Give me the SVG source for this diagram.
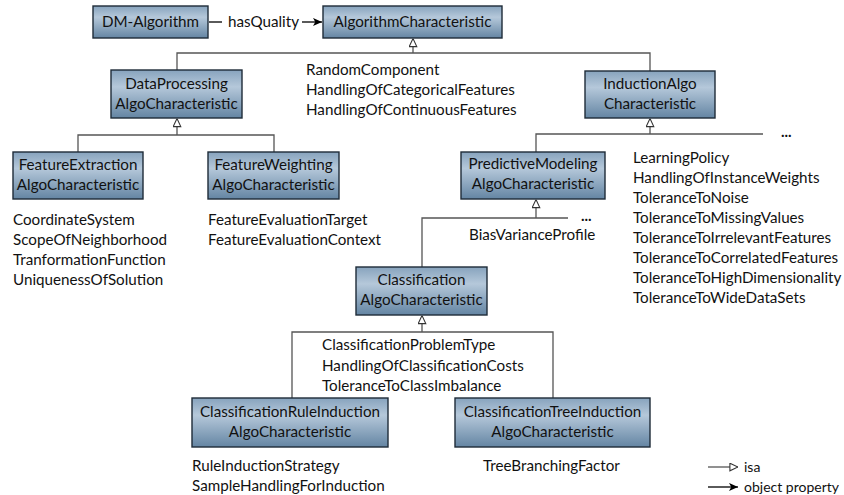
<svg xmlns="http://www.w3.org/2000/svg" width="844" height="495" viewBox="0 0 844 495">
  <defs>
    <linearGradient id="boxFill" x1="0" y1="0" x2="0" y2="1">
      <stop offset="0" stop-color="#87a3bd"/>
      <stop offset="0.35" stop-color="#b5c8da"/>
      <stop offset="1" stop-color="#6485a3"/>
    </linearGradient>
    <marker id="isa" viewBox="0 0 10 10" refX="10" refY="5" markerWidth="9" markerHeight="9" markerUnits="userSpaceOnUse" orient="auto">
      <path d="M10,5 L1,0.8 L1,9.2 Z" fill="#fff" stroke="#333" stroke-width="1.2"/>
    </marker>
    <marker id="prop" viewBox="0 0 10 10" refX="10" refY="5" markerWidth="11" markerHeight="9" markerUnits="userSpaceOnUse" orient="auto">
      <path d="M10,5 L0,0.5 L2.5,5 L0,9.5 Z" fill="#000"/>
    </marker>
  </defs>
  <style>
    text { font-family: Lato, "Liberation Sans", sans-serif; font-size: 15.2px; fill: #111; }
    .box { fill: url(#boxFill); stroke: #1e2b38; stroke-width: 1.4; }
    .lbl { text-anchor: middle; }
    .bar { fill: none; stroke: #555; stroke-width: 1.3; }
    .isa { fill: none; stroke: #555; stroke-width: 1.3; marker-end: url(#isa); }
    .prop { fill: none; stroke: #000; stroke-width: 1.3; marker-end: url(#prop); }
    .dots { font-weight: bold; font-size: 15px; }
    .legend { font-size: 14px; }
  </style>

  <!-- connectors -->
  <g id="connectors">
    <line x1="209" y1="22" x2="222" y2="22" stroke="#000" stroke-width="1.3"/>
    <text x="228" y="27">hasQuality</text>
    <line class="prop" x1="302" y1="22" x2="322" y2="22"/>

    <path class="bar" d="M177,70 V53 H650 V71"/>
    <path class="isa" d="M413,53 V38.5"/>

    <path class="bar" d="M78,152 V135 H274 V152"/>
    <path class="isa" d="M177,135 V118.5"/>

    <path class="bar" d="M536,152 V134 H763"/>
    <path class="isa" d="M650,134 V118.5"/>
    <text class="dots" x="781" y="137">...</text>

    <path class="bar" d="M422,267 V218 H568"/>
    <path class="isa" d="M536,218 V199.5"/>
    <text class="dots" x="581" y="221">...</text>

    <path class="bar" d="M292,398 V332 H553 V398"/>
    <path class="isa" d="M422,332 V315.5"/>
  </g>

  <!-- nodes -->
  <g id="dm-algorithm">
    <rect class="box" x="93" y="6" width="115" height="32"/>
    <text class="lbl" x="150.5" y="27">DM-Algorithm</text>
  </g>
  <g id="algorithm-characteristic">
    <rect class="box" x="323" y="6" width="179" height="32"/>
    <text class="lbl" x="412.5" y="27">AlgorithmCharacteristic</text>
  </g>
  <g id="dataprocessing">
    <rect class="box" x="111" y="70" width="131" height="48"/>
    <text class="lbl" x="176.5" y="89">DataProcessing</text>
    <text class="lbl" x="176.5" y="109">AlgoCharacteristic</text>
  </g>
  <g id="inductionalgo">
    <rect class="box" x="585" y="71" width="130" height="47"/>
    <text class="lbl" x="650" y="89">InductionAlgo</text>
    <text class="lbl" x="650" y="109">Characteristic</text>
  </g>
  <g id="featureextraction">
    <rect class="box" x="13" y="152" width="130" height="47"/>
    <text class="lbl" x="78" y="170">FeatureExtraction</text>
    <text class="lbl" x="78" y="190">AlgoCharacteristic</text>
  </g>
  <g id="featureweighting">
    <rect class="box" x="208" y="152" width="131" height="47"/>
    <text class="lbl" x="273.5" y="170">FeatureWeighting</text>
    <text class="lbl" x="273.5" y="190">AlgoCharacteristic</text>
  </g>
  <g id="predictivemodeling">
    <rect class="box" x="461" y="152" width="144" height="47"/>
    <text class="lbl" x="533" y="169">PredictiveModeling</text>
    <text class="lbl" x="533" y="189">AlgoCharacteristic</text>
  </g>
  <g id="classification">
    <rect class="box" x="356" y="267" width="131" height="48"/>
    <text class="lbl" x="421.5" y="285">Classification</text>
    <text class="lbl" x="421.5" y="305">AlgoCharacteristic</text>
  </g>
  <g id="classificationruleinduction">
    <rect class="box" x="192" y="398" width="196" height="49"/>
    <text class="lbl" x="290" y="417">ClassificationRuleInduction</text>
    <text class="lbl" x="290" y="437">AlgoCharacteristic</text>
  </g>
  <g id="classificationtreeinduction">
    <rect class="box" x="455" y="398" width="195" height="49"/>
    <text class="lbl" x="552.5" y="417">ClassificationTreeInduction</text>
    <text class="lbl" x="552.5" y="437">AlgoCharacteristic</text>
  </g>

  <!-- characteristic properties -->
  <g id="props-algorithm">
    <text x="306" y="75">RandomComponent</text>
    <text x="306" y="95">HandlingOfCategoricalFeatures</text>
    <text x="306" y="115">HandlingOfContinuousFeatures</text>
  </g>
  <g id="props-featureextraction">
    <text x="13" y="225">CoordinateSystem</text>
    <text x="13" y="245">ScopeOfNeighborhood</text>
    <text x="13" y="265">TranformationFunction</text>
    <text x="13" y="285">UniquenessOfSolution</text>
  </g>
  <g id="props-featureweighting">
    <text x="208" y="225">FeatureEvaluationTarget</text>
    <text x="208" y="245">FeatureEvaluationContext</text>
  </g>
  <g id="props-predictive">
    <text x="469" y="240">BiasVarianceProfile</text>
  </g>
  <g id="props-induction">
    <text x="633" y="163">LearningPolicy</text>
    <text x="633" y="183">HandlingOfInstanceWeights</text>
    <text x="633" y="203">ToleranceToNoise</text>
    <text x="633" y="223">ToleranceToMissingValues</text>
    <text x="633" y="243">ToleranceToIrrelevantFeatures</text>
    <text x="633" y="263">ToleranceToCorrelatedFeatures</text>
    <text x="633" y="283">ToleranceToHighDimensionality</text>
    <text x="633" y="303">ToleranceToWideDataSets</text>
  </g>
  <g id="props-classification">
    <text x="322" y="350">ClassificationProblemType</text>
    <text x="322" y="370.5">HandlingOfClassificationCosts</text>
    <text x="322" y="391">ToleranceToClassImbalance</text>
  </g>
  <g id="props-rule">
    <text x="192" y="471">RuleInductionStrategy</text>
    <text x="192" y="491">SampleHandlingForInduction</text>
  </g>
  <g id="props-tree">
    <text x="483" y="471">TreeBranchingFactor</text>
  </g>

  <!-- legend -->
  <g id="legend">
    <line class="isa" x1="708" y1="467" x2="738" y2="467"/>
    <text class="legend" x="744" y="472">isa</text>
    <line class="prop" x1="708" y1="487" x2="738" y2="487"/>
    <text class="legend" x="744" y="492">object property</text>
  </g>
</svg>
